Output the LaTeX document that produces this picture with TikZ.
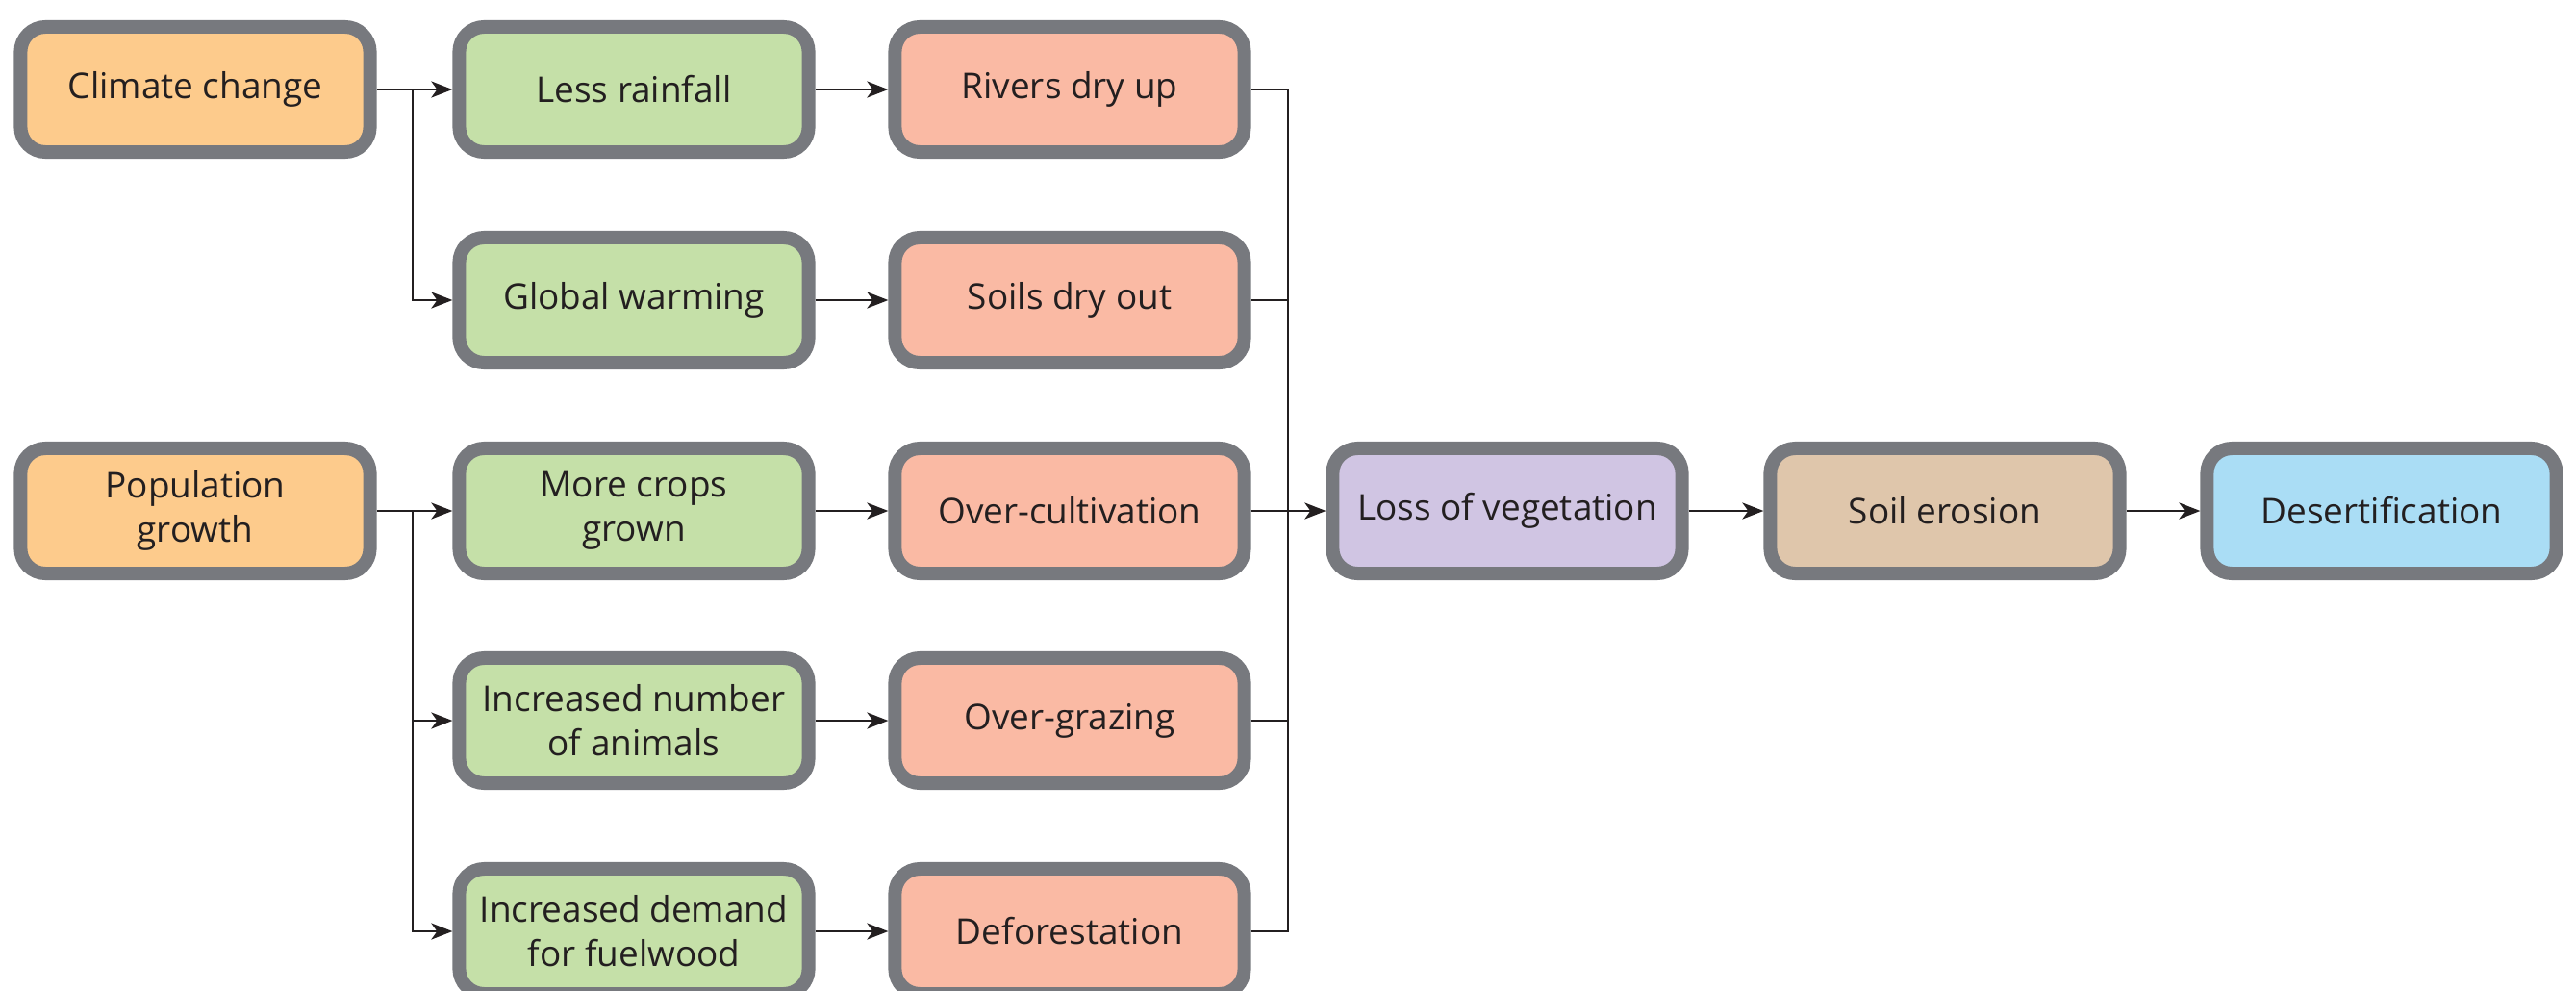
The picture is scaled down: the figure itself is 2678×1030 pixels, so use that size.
\documentclass[tikz,border=0pt]{standalone}
\usepackage{fontspec}
\setmainfont{Open Sans}
\usetikzlibrary{arrows.meta}

\definecolor{edgegray}{HTML}{77797E}
\definecolor{inkdark}{HTML}{231F20}
\definecolor{causeorange}{HTML}{FDCB8C}
\definecolor{stepgreen}{HTML}{C5E0A8}
\definecolor{effectsalmon}{HTML}{FABAA4}
\definecolor{losslilac}{HTML}{D0C5E3}
\definecolor{erosiontan}{HTML}{DFC6AB}
\definecolor{desertblue}{HTML}{AADDF5}

\begin{document}
\begin{tikzpicture}[x=0.01cm, y=-0.01cm,
  box/.style={draw=edgegray, line width=0.14cm, rounded corners=0.26cm,
    minimum width=3.63cm, minimum height=1.30cm, inner sep=0pt,
    align=center, text=inkdark,
    font=\fontsize{10.5}{13.1}\selectfont},
  wire/.style={line width=0.027cm, draw=inkdark},
  link/.style={wire, -{Stealth[length=0.22cm, width=0.17cm, inset=0.06cm]}}]

\useasboundingbox (0,0) rectangle (2678,1030);
\clip (0,0) rectangle (2678,1030);

% causes
\node[box, fill=causeorange] (cc) at (203,93)  {Climate change};
\node[box, fill=causeorange] (pg) at (203,531) {Population\\growth};

% first consequences
\node[box, fill=stepgreen] (lr) at (659,93)  {Less rainfall};
\node[box, fill=stepgreen] (gw) at (659,312) {Global warming};
\node[box, fill=stepgreen] (mc) at (659,531) {More crops\\grown};
\node[box, fill=stepgreen] (na) at (659,749) {Increased number\\of animals};
\node[box, fill=stepgreen] (fw) at (659,968) {Increased demand\\for fuelwood};

% effects on the land
\node[box, fill=effectsalmon] (rd) at (1112,93)  {Rivers dry up};
\node[box, fill=effectsalmon] (sd) at (1112,312) {Soils dry out};
\node[box, fill=effectsalmon] (oc) at (1112,531) {Over-cultivation};
\node[box, fill=effectsalmon] (og) at (1112,749) {Over-grazing};
\node[box, fill=effectsalmon] (df) at (1112,968) {Deforestation};

% final chain
\node[box, fill=losslilac]   (lv) at (1567,531) {Loss of vegetation};
\node[box, fill=erosiontan]  (se) at (2022,531) {Soil erosion};
\node[box, fill=desertblue]  (de) at (2476,531) {Desertification};

% branching points and collector bus
\coordinate (ccsplit) at (429,93);
\coordinate (pgsplit) at (429,531);
\coordinate (bus) at (1339,531);

% climate change branch
\draw[wire] (cc.east) -- (ccsplit);
\draw[link] (ccsplit) -- (lr.west);
\draw[link] (ccsplit) |- (gw.west);

% population growth branch
\draw[wire] (pg.east) -- (pgsplit);
\draw[link] (pgsplit) -- (mc.west);
\draw[link] (pgsplit) |- (na.west);
\draw[link] (pgsplit) |- (fw.west);

% second column to third column
\draw[link] (lr.east) -- (rd.west);
\draw[link] (gw.east) -- (sd.west);
\draw[link] (mc.east) -- (oc.west);
\draw[link] (na.east) -- (og.west);
\draw[link] (fw.east) -- (df.west);

% collector into loss of vegetation
\draw[wire] (rd.east) -| (bus);
\draw[wire] (sd.east) -| (bus);
\draw[wire] (og.east) -| (bus);
\draw[wire] (df.east) -| (bus);
\draw[link] (oc.east) -- (lv.west);

% final chain
\draw[link] (lv.east) -- (se.west);
\draw[link] (se.east) -- (de.west);
\end{tikzpicture}
\end{document}
